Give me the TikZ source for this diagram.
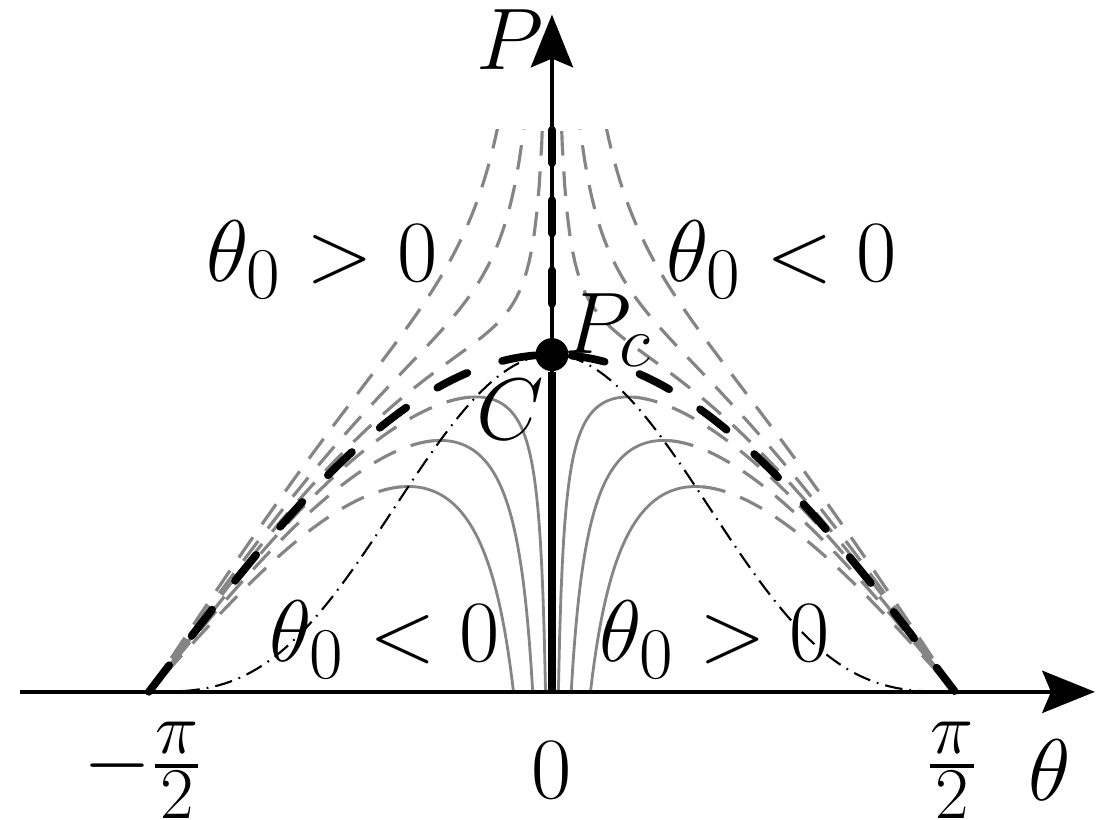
\documentclass[tikz,border=0pt]{standalone}
\usepackage{amsmath}
\usetikzlibrary{arrows.meta}
\tikzset{
  arr/.style={-{Stealth[length=15pt,width=12pt,inset=2.5pt]}, line width=1.1pt},
  solidbr/.style={black!48, line width=0.8pt},
  dashbr/.style={black!48, line width=0.9pt, dash pattern=on 7pt off 4.5pt},
  perfbr/.style={black, line width=2.2pt, line cap=round, dash pattern=on 9.5pt off 10.5pt},
  locus/.style={black, line width=0.6pt, dash pattern=on 5pt off 2pt on 0.5pt off 2pt},
  trivial/.style={black, line width=2.3pt},
}

\begin{document}
\begin{tikzpicture}[x=2.566cm, y=5.62cm, font=\Huge]
\useasboundingbox (-2.151,-0.228) rectangle (2.124,1.231);
% imperfect branches, theta_0 > 0 and theta_0 < 0
\begin{scope}
\clip (-1.75,-0.01) rectangle (1.75,1.0);
\foreach \a in {0.025,0.075,0.15}{
  \pgfmathsetmacro{\s}{sin(\a r)}
  \pgfmathsetmacro{\m}{asin(pow(\s,1/3))*pi/180}
  \foreach \k in {1,-1}{
    \draw[dashbr] plot[domain=-pi/2:-0.02, samples=160] ({\k*\x}, {0.6*cos(\x r)*(1-\s/sin(\x r))});
    \draw[solidbr] plot[domain=\a:\m+0.02, samples=60] ({\k*\x}, {0.6*cos(\x r)*(1-\s/sin(\x r))});
    \draw[dashbr] plot[domain=\m+0.02:pi/2, samples=80] ({\k*\x}, {0.6*cos(\x r)*(1-\s/sin(\x r))});
  }
}
\end{scope}
% locus of limit points
\draw[locus] plot[domain=-pi/2:pi/2, samples=160] (\x, {0.6*(cos(\x r))^3});
% perfect system
\draw[perfbr] plot[domain=-pi/2:pi/2, samples=160] (\x, {0.6*cos(\x r)});
% axes
\coordinate (O) at (0,0);
\coordinate (xs) at (-2.073,0);
\coordinate (xe) at (2.116,0);
\coordinate (ye) at (0,1.205);
\coordinate (Ptop) at (0,1);
\draw[arr] (xs) -- (xe);
\draw[arr] (O) -- (ye);
\node[circle, fill, inner sep=0pt, minimum size=0.33cm] (Pc) at (0,0.6) {};
\draw[trivial] (O) -- (Pc);
\draw[perfbr] (Ptop) -- (Pc);
% labels
\node (lblP) at (-0.164,1.160) {$P$};
\node (lblPc) at (0.218,0.644) {$P_c$};
\node (lblC) at (-0.164,0.502) {$C$};
\node (lblUL) at (-0.896,0.769) {$\theta_0>0$};
\node (lblUR) at (0.896,0.769) {$\theta_0<0$};
\node (lblLL) at (-0.651,0.093) {$\theta_0<0$};
\node (lblLR) at (0.635,0.093) {$\theta_0>0$};
\node (lblmh) at (-1.594,-0.139) {$-\frac{\pi}{2}$};
\node (lblz) at (0,-0.139) {$0$};
\node (lblh) at (1.559,-0.139) {$\frac{\pi}{2}$};
\node (lblth) at (1.941,-0.139) {$\theta$};
\end{tikzpicture}
\end{document}
